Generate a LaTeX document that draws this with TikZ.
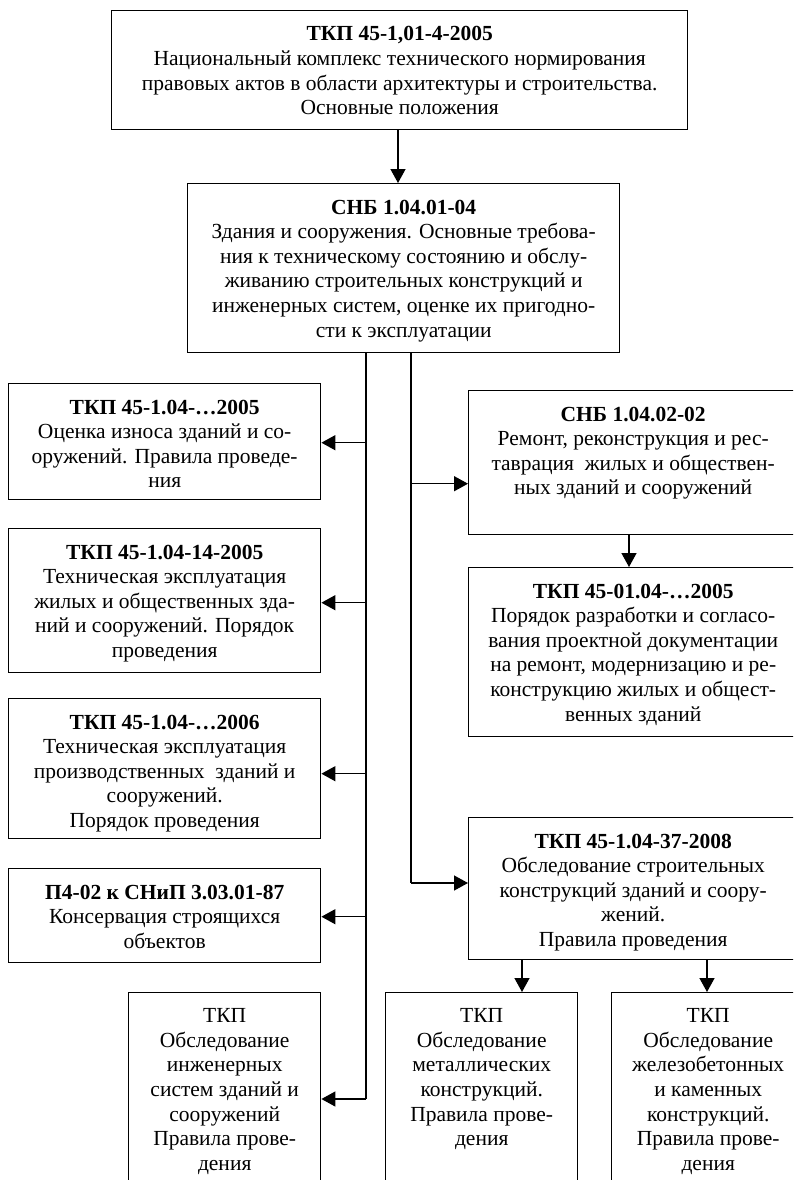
\documentclass[tikz,border=0pt]{standalone}
\usepackage{fontspec}
\setmainfont{Liberation Serif}
\usetikzlibrary{arrows.meta,calc}
\tikzset{
  box/.style={draw, line width=1.4pt, rectangle, inner sep=0pt, anchor=north west},
  txt/.style={anchor=north, align=center, inner sep=0pt, font=\fontsize{21.5}{24.6}\selectfont},
  ln/.style={line width=1.4pt},
  arr/.style={line width=1.4pt, -{Triangle[length=14pt,width=15pt]}}
}
\begin{document}
\begin{tikzpicture}[x=1pt,y=-1pt]
\useasboundingbox (0,0) rectangle (793,1180);
\fill[white] (0,0) rectangle (793,1180);
\clip (0,0) rectangle (793,1180);
% boxes
\node[box, minimum width=576pt, minimum height=119pt] (top) at (111,10) {};
\node[box, minimum width=432pt, minimum height=169pt] (snb) at (187,183) {};
\node[box, minimum width=312pt, minimum height=116pt] (L1) at (8,383) {};
\node[box, minimum width=312pt, minimum height=144pt] (L2) at (8,528) {};
\node[box, minimum width=312pt, minimum height=140pt] (L3) at (8,698) {};
\node[box, minimum width=312pt, minimum height=94pt] (L4) at (8,868) {};
\node[box, minimum width=192pt, minimum height=220pt] (L5) at (128,992) {};
\node[box, minimum width=329pt, minimum height=144pt] (R1) at (468,390) {};
\node[box, minimum width=329pt, minimum height=169pt] (R2) at (468,567) {};
\node[box, minimum width=329pt, minimum height=142pt] (R3) at (468,817) {};
\node[box, minimum width=192pt, minimum height=220pt] (B1) at (385,992) {};
\node[box, minimum width=193pt, minimum height=220pt] (B2) at (611,992) {};
% texts
\node[txt] (ttop) at ($(top.north)+(0,16.5)$) {\textbf{ТКП 45-1,01-4-2005}\\Национальный комплекс технического нормирования\\правовых актов в области архитектуры и строительства.\\Основные положения};
\node[txt] (tsnb) at ($(snb.north)+(0,16.5)$) {\textbf{СНБ 1.04.01-04}\\Здания и сооружения. Основные требова-\\ния к техническому состоянию и обслу-\\живанию строительных конструкций и\\инженерных систем, оценке их пригодно-\\сти к эксплуатации};
\node[txt] (tL1) at ($(L1.north)+(0,16.5)$) {\textbf{ТКП 45-1.04-…2005}\\Оценка износа зданий и со-\\оружений. Правила проведе-\\ния};
\node[txt] (tL2) at ($(L2.north)+(0,16.5)$) {\textbf{ТКП 45-1.04-14-2005}\\Техническая эксплуатация\\жилых и общественных зда-\\ний и сооружений. Порядок\\проведения};
\node[txt] (tL3) at ($(L3.north)+(0,16.5)$) {\textbf{ТКП 45-1.04-…2006}\\Техническая эксплуатация\\производственных\ \ зданий и\\сооружений.\\Порядок проведения};
\node[txt] (tL4) at ($(L4.north)+(0,16.5)$) {\textbf{П4-02 к СНиП 3.03.01-87}\\Консервация строящихся\\объектов};
\node[txt] (tL5) at ($(L5.north)+(0,16.5)$) {ТКП\\Обследование\\инженерных\\систем зданий и\\сооружений\\Правила прове-\\дения};
\node[txt] (tR1) at ($(R1.north)+(0,16.5)$) {\textbf{СНБ 1.04.02-02}\\Ремонт, реконструкция и рес-\\таврация\ \ жилых и обществен-\\ных зданий и сооружений};
\node[txt] (tR2) at ($(R2.north)+(0,16.5)$) {\textbf{ТКП 45-01.04-…2005}\\Порядок разработки и согласо-\\вания проектной документации\\на ремонт, модернизацию и ре-\\конструкцию жилых и общест-\\венных зданий};
\node[txt] (tR3) at ($(R3.north)+(0,16.5)$) {\textbf{ТКП 45-1.04-37-2008}\\Обследование строительных\\конструкций зданий и соору-\\жений.\\Правила проведения};
\node[txt] (tB1) at ($(B1.north)+(0,16.5)$) {ТКП\\Обследование\\металлических\\конструкций.\\Правила прове-\\дения};
\node[txt] (tB2) at ($(B2.north)+(0,16.5)$) {ТКП\\Обследование\\железобетонных\\и каменных\\конструкций.\\Правила прове-\\дения};
% trunk coordinates
\coordinate (lx) at (366,0);
\coordinate (rx) at (411,0);
\coordinate (lb) at (366,1099);
\coordinate (rb) at (411,883);
\coordinate (c1) at (629,0);
\coordinate (c2) at (522,0);
\coordinate (c3) at (707,0);
% connectors
\draw[arr] (top.south -| 398,0) -- (snb.north -| 398,0);
\draw[ln] (snb.south -| lx) -- (lb);
\draw[ln] (snb.south -| rx) -- (rb);
\draw[arr] ($(L1.east -| lx)+(0,1)$) -- ($(L1.east)+(0,1)$);
\draw[arr] ($(L2.east -| lx)+(0,2)$) -- ($(L2.east)+(0,2)$);
\draw[arr] ($(L3.east -| lx)+(0,5)$) -- ($(L3.east)+(0,5)$);
\draw[arr] ($(L4.east -| lx)+(0,1)$) -- ($(L4.east)+(0,1)$);
\draw[arr] (lb) -- (lb -| L5.east);
\draw[arr] ($(R1.west -| rx)+(0,21)$) -- ($(R1.west)+(0,21)$);
\draw[arr] (rb) -- (rb -| R3.west);
\draw[arr] (R1.south -| c1) -- (R2.north -| c1);
\draw[arr] (R3.south -| c2) -- (B1.north -| c2);
\draw[arr] (R3.south -| c3) -- (B2.north -| c3);
\end{tikzpicture}
\end{document}
